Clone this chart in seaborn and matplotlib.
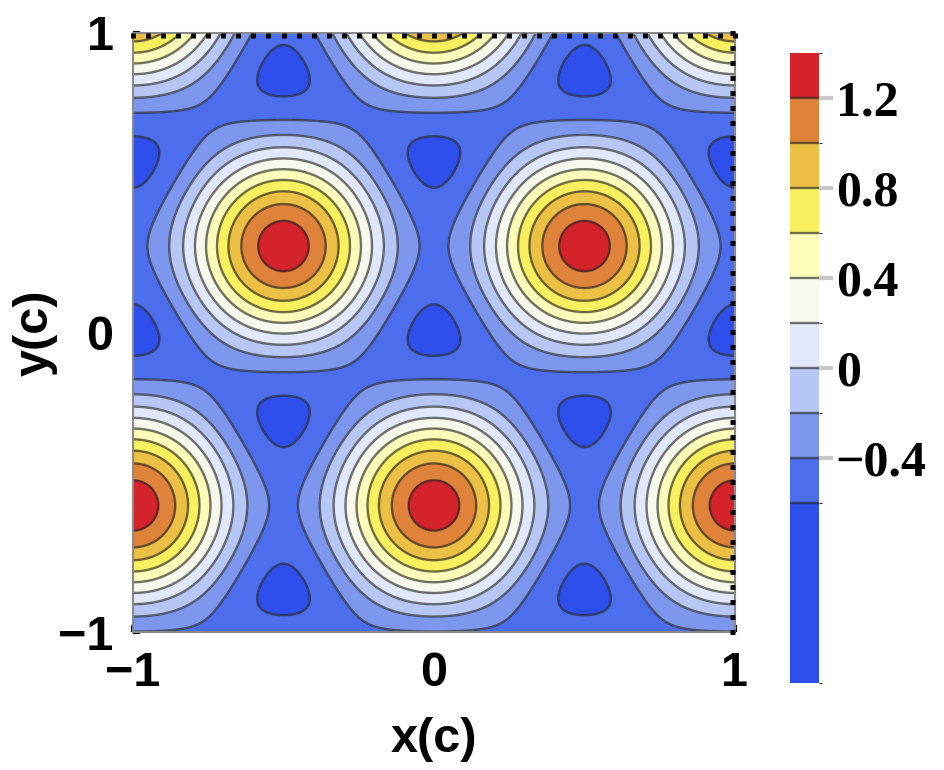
import numpy as np
import matplotlib
matplotlib.use("Agg")
import matplotlib.pyplot as plt
from matplotlib.colors import ListedColormap, BoundaryNorm
import seaborn as sns

# hexagonal lattice density, f = AMP * sum_i cos(b_i . (r - r0))
AMP = 0.44
LATTICE_A = 1.0
ORIGIN = (0.0, -1.0 / np.sqrt(3))

LEVELS = [-1.4, -0.6, -0.4, -0.2, 0.0, 0.2, 0.4, 0.6, 0.8, 1.0, 1.2, 1.4]
LINE_LEVELS = [-0.6, -0.4, -0.2, 0.0, 0.2, 0.4, 0.6, 0.8, 1.0, 1.2]
BAND_COLORS = ["#2e4fec", "#4c6dec", "#7e97ee", "#b6c6f5", "#e1e8fb",
               "#f7f9ec", "#fdfcb9", "#f9f060", "#ecc044", "#de8339", "#d4232b"]

X_TICKS = [-1, 0, 1]
X_LABELS = ["\u22121", "0", "1"]
Y_TICKS = [-1, 0, 1]
Y_LABELS = ["\u22121", "0", "1"]
CBAR_TICKS = [-0.4, 0.0, 0.4, 0.8, 1.2]
CBAR_LABELS = ["\u22120.4", "0", "0.4", "0.8", "1.2"]

sns.set_style("white")
plt.rcParams["font.family"] = ["Liberation Sans", "DejaVu Sans"]
plt.rcParams["text.color"] = "black"
plt.rcParams["axes.labelcolor"] = "black"
plt.rcParams["xtick.color"] = "black"
plt.rcParams["ytick.color"] = "black"

# reciprocal vectors of the triangular lattice
b1 = 2 * np.pi / LATTICE_A * np.array([1.0, -1.0 / np.sqrt(3)])
b2 = 2 * np.pi / LATTICE_A * np.array([0.0, 2.0 / np.sqrt(3)])
b3 = -(b1 + b2)

xs = np.linspace(-1, 1, 700)
ys = np.linspace(-1, 1, 700)
X, Y = np.meshgrid(xs, ys)
DX, DY = X - ORIGIN[0], Y - ORIGIN[1]
Z = AMP * sum(np.cos(b[0] * DX + b[1] * DY) for b in (b1, b2, b3))

cmap = ListedColormap(sns.color_palette(BAND_COLORS))
norm = BoundaryNorm(LEVELS, cmap.N)

fig = plt.figure(figsize=(9.45, 7.7), dpi=100)
ax = fig.add_axes([133 / 945, 1 - 632 / 770, 602 / 945, 599 / 770])
cf = ax.contourf(X, Y, Z, levels=LEVELS, cmap=cmap, norm=norm)
cs = ax.contour(X, Y, Z, levels=LINE_LEVELS, colors="#262626", linewidths=1.7,
                alpha=0.65, linestyles="solid")

ax.set_xlim(-1, 1)
ax.set_ylim(-1, 1)
ax.set_xticks(X_TICKS)
ax.set_xticklabels(X_LABELS)
ax.set_yticks(Y_TICKS)
ax.set_yticklabels(Y_LABELS)
ax.tick_params(direction="in", length=5, width=3, color="black", pad=14,
               labelsize=35, bottom=True, left=True)
for lab in ax.get_xticklabels() + ax.get_yticklabels():
    lab.set_fontweight("bold")
for sp in ax.spines.values():
    sp.set_color("#8a8a8a")
    sp.set_linewidth(1.5)

# dotted frame ticks on top and right
minor = np.arange(-1, 1.001, 0.05)
top = ax.secondary_xaxis("top")
top.set_zorder(5)
top.set_xticks(minor)
top.tick_params(direction="in", length=3.5, width=3.5, color="black", top=True,
                labeltop=False)
top.spines["top"].set_visible(False)
right = ax.secondary_yaxis("right")
right.set_zorder(5)
right.set_yticks(minor)
right.tick_params(direction="in", length=3.5, width=3.5, color="black", right=True,
                  labelright=False)
right.spines["right"].set_visible(False)

ax.set_xlabel("x(c)", fontsize=35, fontweight="bold")
ax.set_ylabel("y(c)", fontsize=35, fontweight="bold")
ax.xaxis.set_label_coords(0.5, -0.142)
ax.yaxis.set_label_coords(-0.125, 0.5)

cax = fig.add_axes([790 / 945, 1 - 683 / 770, 29 / 945, 630 / 770])
cbar = fig.colorbar(cf, cax=cax, ticks=CBAR_TICKS, spacing="proportional")
cbar.add_lines(cs)
cbar.outline.set_visible(False)
cbar.ax.set_yticklabels(CBAR_LABELS)
cbar.ax.tick_params(direction="out", length=10, width=3, color="#c8c8c8", pad=2,
                    right=True)
for lab in cbar.ax.get_yticklabels():
    lab.set_fontfamily(["Liberation Serif", "DejaVu Serif"])
    lab.set_fontweight("bold")
    lab.set_fontsize(36)
    lab.set_color("black")

fig.savefig("out.png", dpi=100)
